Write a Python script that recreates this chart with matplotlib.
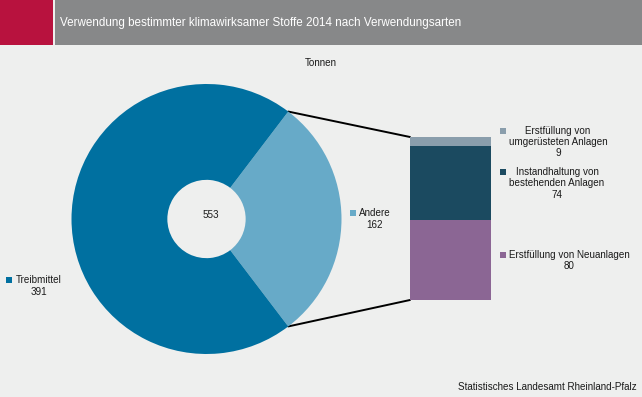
import numpy as np
import matplotlib
matplotlib.use("Agg")
import matplotlib.pyplot as plt
from matplotlib.patches import Rectangle, ConnectionPatch

plt.rcParams['font.family'] = ['Liberation Sans', 'DejaVu Sans']

# Data
pie_labels = ["Andere", "Treibmittel"]
pie_values = [162, 391]
pie_colors = ["#67aac8", "#0070a0"]

bar_labels = ["Erstfüllung von Neuanlagen",
              "Instandhaltung von\nbestehenden Anlagen",
              "Erstfüllung von\numgerüsteten Anlagen"]
bar_values = [80, 74, 9]
bar_colors = ["#8b6694", "#1b4a60", "#8a9eac"]

title = "Verwendung bestimmter klimawirksamer Stoffe 2014 nach Verwendungsarten"
unit = "Tonnen"
source = "Statistisches Landesamt Rheinland-Pfalz"

BG = "#eeefee"
W, H = 642, 397

fig = plt.figure(figsize=(W / 100, H / 100), dpi=100, facecolor=BG)

# background / text layer in pixel coordinates
ax_bg = fig.add_axes([0, 0, 1, 1], zorder=0)
ax_bg.set_xlim(0, W)
ax_bg.set_ylim(H, 0)
ax_bg.axis("off")
ax_bg.add_patch(Rectangle((0, 0), 53.3, 44.5, color="#b8123e", lw=0))
ax_bg.add_patch(Rectangle((55, 0), W - 55, 44.5, color="#878889", lw=0))
ax_bg.text(60, 23, title, color="white", fontsize=8.4, va="center", ha="left",
           family=["Liberation Sans Narrow", "Liberation Sans", "DejaVu Sans"])
ax_bg.text(321, 63, unit, fontsize=7.1, ha="center", va="center", color="#1a1a1a")
ax_bg.text(637, 387, source, fontsize=7.1, ha="right", va="center", color="#1a1a1a")

# donut
total = sum(pie_values)
span = pie_values[0] / total * 360
ax_pie = fig.add_axes([71.5 / W, (H - 354) / H, 270 / W, 270 / H], zorder=1)
ax_pie.pie(pie_values, colors=pie_colors, startangle=-span / 2, counterclock=True,
           radius=1, wedgeprops=dict(width=0.71, linewidth=0))
ax_pie.set_xlim(-1, 1)
ax_pie.set_ylim(-1, 1)
ax_pie.set_aspect("equal")
ax_pie.axis("off")
ax_pie.text(0.03, 0.03, str(total), ha="center", va="center", fontsize=7.1, color="#1a1a1a")

# stacked bar
sub_total = sum(bar_values)
ax_bar = fig.add_axes([410 / W, (H - 300) / H, 81 / W, 163 / H], zorder=1)
bottom = 0
for v, c in zip(bar_values, bar_colors):
    ax_bar.bar(0, v, bottom=bottom, width=1, color=c, linewidth=0)
    bottom += v
ax_bar.set_xlim(-0.5, 0.5)
ax_bar.set_ylim(0, sub_total)
ax_bar.axis("off")

# connector lines
a = np.deg2rad(span / 2)
for sign, yb in [(1, sub_total), (-1, 0)]:
    con = ConnectionPatch(xyA=(np.cos(a), sign * np.sin(a)), coordsA=ax_pie.transData,
                          xyB=(-0.5, yb), coordsB=ax_bar.transData,
                          color="black", lw=1.4)
    fig.add_artist(con)

# data labels: (marker x, marker y, text center x, text center y)
def label(mx, my, cx, cy, name, value, color):
    ax_bg.plot(mx, my, marker="s", ms=3.8, color=color, mew=0)
    ax_bg.text(cx, cy, f"{name}\n{value}", ha="center", va="center",
               fontsize=7.1, color="#1a1a1a", linespacing=1.15, multialignment="center")

label(8.5, 279.5, 39, 286, pie_labels[1], pie_values[1], pie_colors[1])
label(352.5, 213, 375, 219, pie_labels[0], pie_values[0], pie_colors[0])
label(502.5, 130.5, 558, 142, bar_labels[2], bar_values[2], bar_colors[2])
label(502.5, 172, 557, 183.5, bar_labels[1], bar_values[1], bar_colors[1])
label(502.5, 255, 569.5, 260.5, bar_labels[0], bar_values[0], bar_colors[0])

fig.savefig("out.png", dpi=100, facecolor=BG)
